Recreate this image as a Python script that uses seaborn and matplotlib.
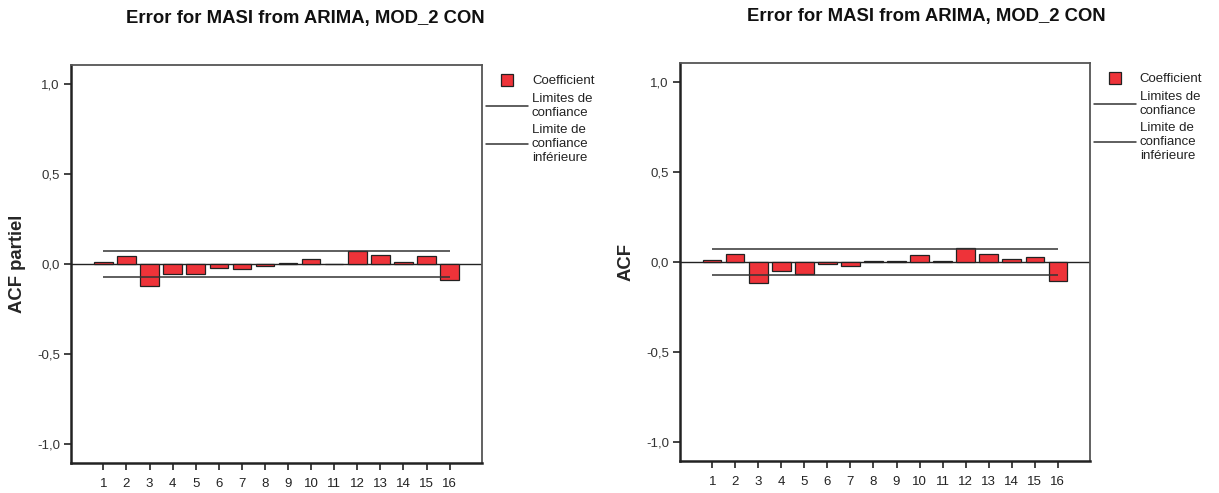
import matplotlib
matplotlib.use("Agg")
import matplotlib.pyplot as plt
import seaborn as sns
import numpy as np
import pandas as pd
from matplotlib.lines import Line2D

sns.set_theme(style="white")
plt.rcParams['font.family'] = ['Liberation Sans', 'DejaVu Sans']

lags = list(range(1, 17))
pacf_vals = [0.011, 0.043, -0.122, -0.053, -0.058, -0.022, -0.030, -0.011,
             0.003, 0.028, 0.002, 0.071, 0.050, 0.012, 0.047, -0.087]
acf_vals = [0.013, 0.046, -0.117, -0.052, -0.067, -0.013, -0.020, 0.004,
            0.006, 0.041, 0.003, 0.075, 0.043, 0.017, 0.028, -0.104]
conf_limit = 0.073
title = "Error for MASI from ARIMA, MOD_2 CON"
ylabels = ["ACF partiel", "ACF"]
ytick_vals = [1.0, 0.5, 0.0, -0.5, -1.0]
ytick_labels = ["1,0", "0,5", "0,0", "-0,5", "-1,0"]
legend_labels = ["Coefficient", "Limites de\nconfiance", "Limite de\nconfiance\ninférieure"]

W, H = 1219, 493
fig = plt.figure(figsize=(W / 100, H / 100), dpi=100)

bar_color = "#ee3339"
panels = [
    (pacf_vals, ylabels[0], (71, 65, 482, 463), (305, 18)),
    (acf_vals, ylabels[1], (680, 63, 1090, 461), (926, 16)),
]

for vals, ylab, (x0, y0, x1, y1), (tx, ty) in panels:
    ax = fig.add_axes([x0 / W, 1 - y1 / H, (x1 - x0) / W, (y1 - y0) / H])
    df = pd.DataFrame({"lag": lags, "value": vals})
    sns.barplot(data=df, x="lag", y="value", native_scale=True, width=0.8,
                color=bar_color, saturation=1, edgecolor="#222222",
                linewidth=0.9, ax=ax, zorder=3)
    ax.axhline(0, color="#222222", lw=1.0, zorder=2)
    ax.hlines([conf_limit, -conf_limit], lags[0], lags[-1], color="#333333",
              lw=1.1, zorder=4)
    ax.set_xlim(-0.4, 17.4)
    ax.set_ylim(-1.105, 1.105)
    ax.set_xticks(lags)
    ax.set_xticklabels([str(l) for l in lags], fontsize=9.5, color="#222222")
    ax.set_yticks(ytick_vals)
    ax.set_yticklabels(ytick_labels, fontsize=9.5, color="#333333")
    ax.tick_params(axis="x", pad=6)
    ax.tick_params(axis="both", direction="out", length=5, width=1.2,
                   color="#222222", bottom=True, left=True)
    ax.tick_params(axis="y", pad=3)
    ax.set_xlabel("")
    ax.set_ylabel(ylab, fontsize=13.3, fontweight="bold", labelpad=8)
    for s in ["left", "bottom"]:
        ax.spines[s].set_color("#222222")
        ax.spines[s].set_linewidth(1.8)
    for s in ["top", "right"]:
        ax.spines[s].set_color("#555555")
        ax.spines[s].set_linewidth(1.3)
    fig.text(tx / W, 1 - ty / H, title, fontsize=13.3, fontweight="bold",
             ha="center", va="center", color="#111111")

    handles = [
        Line2D([], [], ls="none", marker="s", markersize=8,
               markerfacecolor=bar_color, markeredgecolor="#222222", markeredgewidth=0.9),
        Line2D([], [], color="#333333", lw=1.1),
        Line2D([], [], color="#333333", lw=1.1),
    ]
    leg = ax.legend(handles, legend_labels, loc="upper left",
                    bbox_to_anchor=(1.009, 0.975), frameon=False, fontsize=9.5,
                    handlelength=3.2, handletextpad=0.3, labelspacing=0.42,
                    borderpad=0.0, borderaxespad=0.0)
    for t in leg.get_texts():
        t.set_color("#222222")
        t.set_linespacing(1.22)

fig.savefig("out.png", dpi=100)
